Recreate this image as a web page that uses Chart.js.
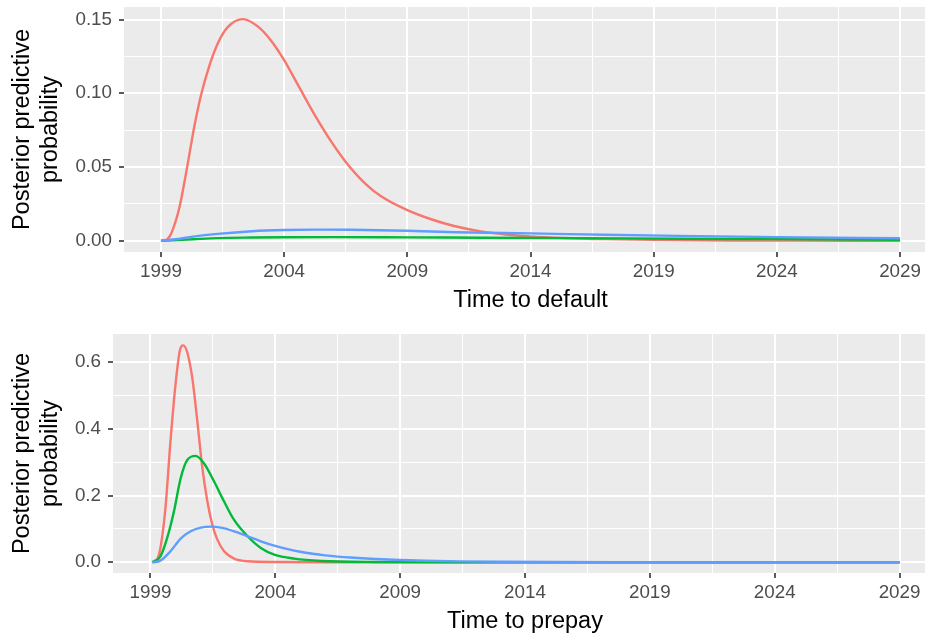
<!DOCTYPE html>
<html>
<head>
<meta charset="utf-8">
<title>Posterior predictive probability</title>
<script src="https://cdn.jsdelivr.net/npm/chart.js@4/dist/chart.umd.min.js"></script>
<style>
    html, body { margin: 0; padding: 0; background: #ffffff; overflow: hidden; }
    canvas { display: block; }
</style>
</head>
<body>
<canvas id="default-chart" width="937" height="320"></canvas>
<canvas id="prepay-chart" width="937" height="319"></canvas>
<script>
// x axis: years
const xTicks = [1999, 2004, 2009, 2014, 2019, 2024, 2029];
const xTickLabels = ['1999', '2004', '2009', '2014', '2019', '2024', '2029'];

// top panel: time to default
const defaultYTicks = [0, 0.05, 0.10, 0.15];
const defaultYTickLabels = ['0.00', '0.05', '0.10', '0.15'];

const defaultRedYears = [1999.10, 1999.27, 1999.41, 1999.54, 1999.68, 1999.82, 1999.95, 2000.09, 2000.22, 2000.36, 2000.63, 2000.97, 2001.31, 2001.72, 2002.33, 2002.94, 2003.48, 2004.00, 2004.60, 2005.27, 2005.94, 2006.50, 2007.28, 2007.95, 2009.00, 2009.97, 2010.90, 2011.98, 2013.00, 2014.00, 2015.33, 2017.00, 2019.00, 2022.00, 2025.00, 2029.00];
const defaultRed = [0, 0.0013, 0.0047, 0.0104, 0.018, 0.028, 0.0395, 0.0525, 0.065, 0.078, 0.099, 0.119, 0.134, 0.145, 0.1503, 0.1452, 0.1355, 0.1225, 0.1045, 0.0845, 0.0665, 0.0535, 0.0390, 0.0300, 0.0208, 0.0146, 0.0100, 0.0064, 0.0043, 0.0030, 0.0019, 0.0011, 0.0006, 0.0002, 0.0001, 0];

const defaultGreenYears = [1999.00, 1999.70, 2000.30, 2001.30, 2002.70, 2004.00, 2006.00, 2009.00, 2012.00, 2016.00, 2020.00, 2024.00, 2029.00];
const defaultGreen = [0, 0.0005, 0.0010, 0.0018, 0.0022, 0.0024, 0.0025, 0.0023, 0.0021, 0.0018, 0.0014, 0.0011, 0.0007];

const defaultBlueYears = [1999.00, 1999.70, 2000.30, 2001.30, 2002.70, 2004.00, 2005.30, 2006.70, 2009.00, 2011.00, 2014.00, 2017.00, 2020.00, 2024.00, 2029.00];
const defaultBlue = [0, 0.0012, 0.0028, 0.0047, 0.0065, 0.0073, 0.0076, 0.0075, 0.0068, 0.0058, 0.0050, 0.0041, 0.0033, 0.0025, 0.0017];

// bottom panel: time to prepay
const prepayYTicks = [0, 0.2, 0.4, 0.6];
const prepayYTickLabels = ['0.0', '0.2', '0.4', '0.6'];

const prepayRedYears = [1999.13, 1999.27, 1999.40, 1999.60, 1999.80, 2000.00, 2000.18, 2000.31, 2000.47, 2000.68, 2000.88, 2001.08, 2001.28, 2001.48, 2001.68, 2001.95, 2002.35, 2002.89, 2004.00, 2006.00, 2029.00];
const prepayRed = [0, 0.008, 0.043, 0.162, 0.361, 0.530, 0.635, 0.650, 0.630, 0.550, 0.421, 0.282, 0.182, 0.112, 0.068, 0.033, 0.011, 0.003, 0.001, 0, 0];

const prepayGreenYears = [1999.07, 1999.40, 1999.67, 1999.94, 2000.21, 2000.47, 2000.81, 2001.14, 2001.55, 2001.95, 2002.35, 2002.89, 2003.42, 2003.96, 2004.76, 2005.84, 2008.00, 2012.00, 2029.00];
const prepayGreen = [0, 0.018, 0.073, 0.152, 0.252, 0.306, 0.319, 0.297, 0.242, 0.182, 0.127, 0.078, 0.043, 0.023, 0.011, 0.004, 0.001, 0.0002, 0];

const prepayBlueYears = [1999.07, 1999.40, 1999.80, 2000.21, 2000.61, 2001.01, 2001.41, 2001.82, 2002.35, 2002.89, 2003.42, 2003.96, 2004.50, 2005.00, 2005.50, 2006.00, 2006.50, 2007.00, 2008.00, 2009.00, 2010.00, 2011.40, 2013.00, 2015.00, 2019.00, 2024.00, 2029.00];
const prepayBlue = [0, 0.005, 0.033, 0.071, 0.093, 0.104, 0.107, 0.104, 0.093, 0.078, 0.063, 0.050, 0.0395, 0.0315, 0.0255, 0.0208, 0.0172, 0.0143, 0.0100, 0.0070, 0.0048, 0.0028, 0.0016, 0.0009, 0.0003, 0.0001, 0];

const RED = '#F8766D';
const GREEN = '#00BA38';
const BLUE = '#619CFF';

Chart.defaults.font.family = "'Liberation Sans', Arial, Helvetica, sans-serif";

const panelBackground = {
    id: 'panelBackground',
    beforeDraw(chart) {
        const {ctx, chartArea} = chart;
        ctx.save();
        ctx.fillStyle = '#EBEBEB';
        ctx.fillRect(chartArea.left, chartArea.top, chartArea.right - chartArea.left, chartArea.bottom - chartArea.top);
        ctx.restore();
    }
};

function withMinor(major) {
    const all = [];
    major.forEach((v, i) => {
        all.push(v);
        if (i < major.length - 1) all.push((v + major[i + 1]) / 2);
    });
    return all;
}

function majorIndex(major, value) {
    return major.findIndex(m => Math.abs(m - value) < 1e-9);
}

function toPoints(years, values) {
    return years.map((x, i) => ({x: x, y: values[i]}));
}

function lineSet(years, values, color, order) {
    return {
        data: toPoints(years, values),
        borderColor: color,
        borderWidth: 2.4,
        pointRadius: 0,
        fill: false,
        cubicInterpolationMode: 'monotone',
        order: order
    };
}

function axisGrid(major) {
    return {
        color: '#FFFFFF',
        lineWidth: ctx => majorIndex(major, ctx.tick.value) >= 0 ? 2 : 1,
        drawTicks: true,
        tickLength: 5,
        tickWidth: 1.6,
        tickColor: ctx => majorIndex(major, ctx.tick.value) >= 0 ? '#333333' : 'rgba(0,0,0,0)'
    };
}

// keep the plot area where the axis boxes put it
function zeroPadding(scale) {
    scale.paddingLeft = 0;
    scale.paddingRight = 0;
    scale.paddingTop = 0;
    scale.paddingBottom = 0;
}

function makeChart(canvasId, p) {
    const yAll = withMinor(p.yTicks);
    const xAll = withMinor(xTicks);

    const config = {
        type: 'line',
        data: {
            datasets: [
                lineSet(p.redYears, p.red, RED, 3),
                lineSet(p.greenYears, p.green, GREEN, 2),
                lineSet(p.blueYears, p.blue, BLUE, 1)
            ]
        },
        options: {
            responsive: false,
            animation: false,
            events: [],
            layout: {padding: {top: p.padTop, right: 0, bottom: 0, left: 0}},
            plugins: {
                legend: {display: false},
                tooltip: {enabled: false}
            },
            scales: {
                x: {
                    type: 'linear',
                    min: 1997.5,
                    max: 2030.5,
                    border: {display: false},
                    grid: axisGrid(xTicks),
                    afterBuildTicks: scale => { scale.ticks = xAll.map(v => ({value: v})); },
                    afterFit: scale => { scale.height = p.xAxisHeight; zeroPadding(scale); },
                    ticks: {
                        autoSkip: false,
                        maxRotation: 0,
                        minRotation: 0,
                        padding: 3.7,
                        color: '#4D4D4D',
                        font: {size: 18.8, lineHeight: 1.2},
                        callback: value => {
                            const i = majorIndex(xTicks, value);
                            return i >= 0 ? xTickLabels[i] : '';
                        }
                    },
                    title: {
                        display: true,
                        text: p.xTitle,
                        color: '#000000',
                        font: {size: 23.5, lineHeight: 1.2},
                        padding: {top: 0, bottom: p.xTitlePad}
                    }
                },
                y: {
                    type: 'linear',
                    min: p.yMin,
                    max: p.yMax,
                    border: {display: false},
                    grid: axisGrid(p.yTicks),
                    afterBuildTicks: scale => { scale.ticks = yAll.map(v => ({value: v})); },
                    afterFit: scale => { scale.width = p.yAxisWidth; zeroPadding(scale); },
                    ticks: {
                        autoSkip: false,
                        padding: 7,
                        color: '#4D4D4D',
                        font: {size: 18.8, lineHeight: 1.2},
                        callback: value => {
                            const i = majorIndex(p.yTicks, value);
                            return i >= 0 ? p.yTickLabels[i] : '';
                        }
                    },
                    title: {
                        display: true,
                        text: ['Posterior predictive', 'probability'],
                        color: '#000000',
                        font: {size: 23.5, lineHeight: 1.2},
                        padding: {top: 8.6, bottom: 0}
                    }
                }
            }
        },
        plugins: [panelBackground]
    };

    return new Chart(document.getElementById(canvasId), config);
}

makeChart('default-chart', {
    redYears: defaultRedYears, red: defaultRed,
    greenYears: defaultGreenYears, green: defaultGreen,
    blueYears: defaultBlueYears, blue: defaultBlue,
    yTicks: defaultYTicks, yTickLabels: defaultYTickLabels,
    yMin: -0.0076, yMax: 0.1585,
    xTitle: 'Time to default',
    padTop: 7, yAxisWidth: 124, xAxisHeight: 68, xTitlePad: 5.5
});

makeChart('prepay-chart', {
    redYears: prepayRedYears, red: prepayRed,
    greenYears: prepayGreenYears, green: prepayGreen,
    blueYears: prepayBlueYears, blue: prepayBlue,
    yTicks: prepayYTicks, yTickLabels: prepayYTickLabels,
    yMin: -0.032, yMax: 0.684,
    xTitle: 'Time to prepay',
    padTop: 14, yAxisWidth: 113, xAxisHeight: 66, xTitlePad: 3.2
});
</script>
</body>
</html>
